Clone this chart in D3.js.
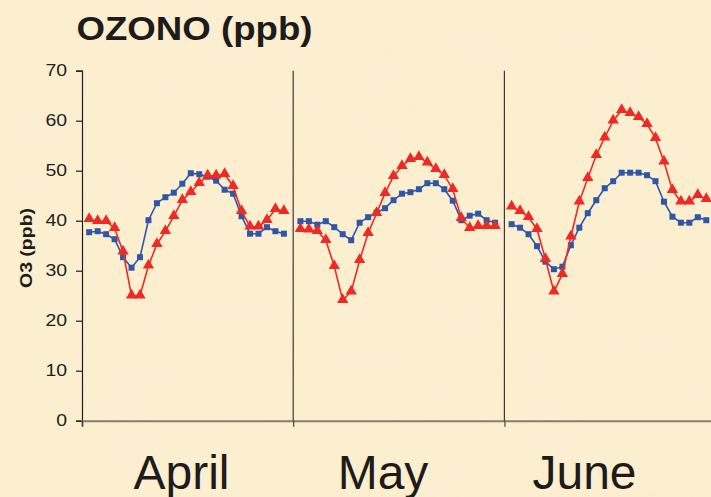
<!DOCTYPE html>
<html>
<head>
<meta charset="utf-8">
<script src="https://cdn.jsdelivr.net/npm/d3@7/dist/d3.min.js"></script>
<style>
  html, body { margin: 0; padding: 0; background: #fcefd1; }
  svg { display: block; }
</style>
</head>
<body>
<svg id="chart" width="711" height="497"></svg>
<script>
const months = ["April", "May", "June"];
const hours = d3.range(24);
const yTicks = [0, 10, 20, 30, 40, 50, 60, 70];

// Blue series (squares), hourly values per month
const blueApril = [37.7, 37.9, 37.3, 36.3, 32.7, 30.6, 32.7, 40.1, 43.5, 44.7, 45.6, 47.4, 49.5, 49.3, 48.8, 48.0, 46.2, 45.4, 40.9, 37.4, 37.4, 38.7, 37.9, 37.4];
const blueMay   = [39.9, 39.9, 39.2, 39.9, 38.7, 37.3, 36.1, 39.6, 40.7, 41.6, 42.5, 44.1, 45.4, 45.7, 46.3, 47.5, 47.5, 46.3, 44.0, 40.1, 41.0, 41.4, 40.1, 39.6];
const blueJune  = [39.3, 38.6, 37.3, 34.9, 31.8, 30.3, 30.8, 35.1, 38.6, 41.5, 44.1, 46.5, 47.9, 49.6, 49.6, 49.6, 49.1, 47.9, 43.8, 40.8, 39.6, 39.6, 40.7, 40.1];

// Red series (triangles)
const redApril = [40.3, 39.9, 39.9, 38.5, 33.8, 25.0, 25.0, 31.0, 35.3, 37.9, 40.9, 44.1, 45.7, 47.5, 49.0, 49.0, 49.3, 46.9, 41.9, 38.8, 38.8, 40.1, 42.3, 41.9];
const redMay   = [38.3, 38.2, 37.9, 36.1, 30.9, 24.1, 25.8, 32.1, 37.5, 41.5, 45.5, 48.9, 50.9, 52.3, 52.7, 51.6, 50.3, 49.1, 46.3, 40.5, 38.5, 38.9, 38.9, 38.9];
const redJune  = [42.8, 41.9, 40.7, 38.3, 32.3, 25.8, 29.3, 36.8, 43.8, 48.5, 53.1, 56.6, 60.0, 62.1, 61.5, 60.7, 59.3, 56.5, 51.8, 46.1, 43.8, 43.8, 45.1, 44.3];

const blueSeries = [blueApril, blueMay, blueJune];
const redSeries = [redApril, redMay, redJune];

const title = "OZONO (ppb)";
const yLabel = "O3 (ppb)";

const svg = d3.select("#chart");
const W = 711, H = 497;
const FONT = "Liberation Sans, Arial, sans-serif";

// Parchment background
const defs = svg.append("defs");
const filt = defs.append("filter").attr("id", "paper").attr("x", 0).attr("y", 0).attr("width", "100%").attr("height", "100%");
filt.append("feTurbulence").attr("type", "fractalNoise").attr("baseFrequency", "0.012 0.03").attr("numOctaves", 3).attr("seed", 4).attr("result", "noise");
filt.append("feColorMatrix").attr("in", "noise").attr("type", "matrix")
  .attr("values", "0 0 0 0 0.98  0 0 0 0 0.86  0 0 0 0 0.66  0 0 0 0.9 -0.35");
svg.append("rect").attr("width", W).attr("height", H).attr("fill", "#fcefd0");
svg.append("rect").attr("width", W).attr("height", H).attr("filter", "url(#paper)").attr("opacity", 0.5);

const plotTop = 70.7, plotBottom = 420.7, plotLeft = 82;

const y = d3.scaleLinear().domain([0, 70]).range([plotBottom, plotTop]);
const xMonth = d3.scaleBand().domain(months).range([plotLeft, plotLeft + 3 * 211.2]).paddingInner(0).paddingOuter(0);

const clip = defs.append("clipPath").attr("id", "clip");
clip.append("rect").attr("x", 0).attr("y", 0).attr("width", W).attr("height", H);

// Title
svg.append("text")
  .attr("x", 76.5).attr("y", 40)
  .attr("font-family", FONT)
  .attr("font-weight", "bold").attr("font-size", 32.5)
  .attr("textLength", 236).attr("lengthAdjust", "spacingAndGlyphs")
  .attr("fill", "#1e1b1a").text(title);

// Y axis
const yAxis = d3.axisLeft(y).tickValues(yTicks).tickSize(6).tickPadding(9);
const gy = svg.append("g").attr("transform", `translate(${plotLeft},0)`).call(yAxis);
gy.select(".domain").attr("stroke", "#231f20").attr("stroke-width", 1.2);
gy.selectAll(".tick line").attr("stroke", "#231f20").attr("stroke-width", 1.2);
gy.selectAll(".tick text").attr("font-family", FONT)
  .attr("font-size", 16).attr("fill", "#231f20")
  .attr("textLength", d => String(d).length * 10.8).attr("lengthAdjust", "spacingAndGlyphs");

// Y label
svg.append("text")
  .attr("transform", `translate(32,${248}) rotate(-90)`)
  .attr("text-anchor", "middle")
  .attr("font-family", FONT)
  .attr("font-weight", "bold").attr("font-size", 16)
  .attr("textLength", 80).attr("lengthAdjust", "spacingAndGlyphs")
  .attr("fill", "#1e1b1a").text(yLabel);

// X axis line with ticks at month boundaries
const bounds = months.map(m => xMonth(m)).concat([xMonth(months[2]) + xMonth.bandwidth()]);
const xb = d3.scaleLinear().domain([bounds[0], bounds[3]]).range([bounds[0], bounds[3]]);
const xAxis = d3.axisBottom(xb).tickValues(bounds.slice(0, 3)).tickSize(6).tickFormat("");
const gx = svg.append("g").attr("transform", `translate(0,${plotBottom})`).call(xAxis);
gx.select(".domain").attr("stroke", "#857c70").attr("stroke-width", 2);
gx.selectAll(".tick line").attr("stroke", "#4a4540").attr("stroke-width", 1.2);

// Dividers
svg.append("g").selectAll("line").data(months.slice(1)).join("line")
  .attr("x1", d => xMonth(d)).attr("x2", d => xMonth(d))
  .attr("y1", plotTop).attr("y2", plotBottom)
  .attr("stroke", "#3c3834").attr("stroke-width", 1.2);

// Month labels
const xLabel = d3.scalePoint().domain(months).range([181.5, 584.5]);
svg.append("g").selectAll("text").data(months).join("text")
  .attr("x", d => xLabel(d)).attr("y", 489)
  .attr("text-anchor", "middle")
  .attr("font-family", FONT)
  .attr("font-size", 48).attr("fill", "#1e1b1a")
  .text(d => d);

// Series
const plot = svg.append("g").attr("clip-path", "url(#clip)");
const triangle = d3.symbol().type(d3.symbolTriangle).size(56);

months.forEach((m, i) => {
  const x0 = xMonth(m);
  const xh = d3.scaleLinear().domain([-0.85, 24.1]).range([x0, x0 + xMonth.bandwidth()]);
  const line = d3.line().x((d, j) => xh(hours[j])).y(d => y(d));

  plot.append("path").datum(blueSeries[i])
    .attr("d", line).attr("fill", "none").attr("stroke", "#2f56a8").attr("stroke-width", 1.6);
  plot.append("g").selectAll("rect").data(blueSeries[i]).join("rect")
    .attr("x", (d, j) => xh(hours[j]) - 3).attr("y", d => y(d) - 3)
    .attr("width", 6).attr("height", 6)
    .attr("fill", "#2f56a8");

  plot.append("path").datum(redSeries[i])
    .attr("d", line).attr("fill", "none").attr("stroke", "#ee2a24").attr("stroke-width", 1.6);
  plot.append("g").selectAll("path").data(redSeries[i]).join("path")
    .attr("d", triangle)
    .attr("transform", (d, j) => `translate(${xh(hours[j])},${y(d) - 0.5})`)
    .attr("fill", "#ee2a24");
});
</script>
</body>
</html>
